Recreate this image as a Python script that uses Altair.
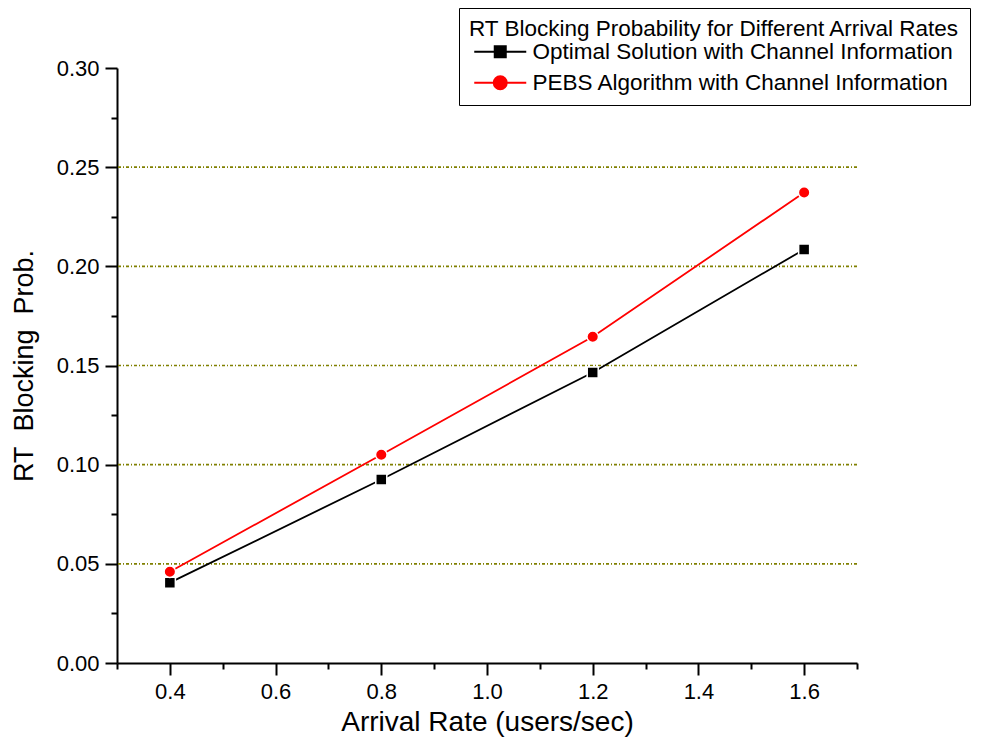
import altair as alt
import pandas as pd

# ---- data ----
arrival_rate = [0.4, 0.8, 1.2, 1.6]
optimal_prob = [0.0405, 0.0925, 0.1465, 0.2085]
pebs_prob = [0.0460, 0.1050, 0.1645, 0.2372]
series_names = ["Optimal Solution with Channel Information",
                "PEBS Algorithm with Channel Information"]
series_colors = ["#000000", "#ff0000"]
grid_values = [0.05, 0.10, 0.15, 0.20, 0.25]
x_major = [0.4, 0.6, 0.8, 1.0, 1.2, 1.4, 1.6]
x_minor = [0.3, 0.5, 0.7, 0.9, 1.1, 1.3, 1.5, 1.7]
y_major = [0.0, 0.05, 0.10, 0.15, 0.20, 0.25, 0.30]
y_minor = [0.025, 0.075, 0.125, 0.175, 0.225, 0.275]

df = pd.DataFrame({
    "rate": arrival_rate * 2,
    "prob": optimal_prob + pebs_prob,
    "series": [series_names[0]] * 4 + [series_names[1]] * 4,
})
grid_df = pd.DataFrame({"g": grid_values})

FONT = "Arial, Liberation Sans, sans-serif"

xscale = alt.Scale(domain=[0.3, 1.7], nice=False, zero=False)
yscale = alt.Scale(domain=[0.0, 0.30], nice=False, zero=False)
cscale = alt.Scale(domain=series_names, range=series_colors)

# legend glyphs (unit = 5 px with symbolSize 100): line with a marker on it
sq_path = ("M-1.2,0L2.9,0M5.1,0L9.2,0"
           "M2.9,-1.1L5.1,-1.1L5.1,1.1L2.9,1.1Z")
ci_path = ("M-1.2,0L2.7,0M5.3,0L9.2,0"
           "M2.7,0A1.3,1.3,0,1,0,5.3,0A1.3,1.3,0,1,0,2.7,0Z")

common_axis = dict(tickColor="black", tickWidth=2, domainColor="black",
                   domainWidth=2, grid=False, labelFont=FONT,
                   labelColor="black", titleFont=FONT, titleColor="black",
                   titleFontWeight="normal")

y_major_axis = alt.Axis(orient="left", values=y_major, format=".2f",
                        title="RT\u00a0 Blocking\u00a0 Prob.", tickSize=12,
                        labelFontSize=22, labelPadding=6, titleFontSize=27,
                        titlePadding=18, **common_axis)
y_minor_axis = alt.Axis(orient="left", values=y_minor, labels=False,
                        tickSize=6, domain=False, title=None,
                        tickColor="black", tickWidth=2, grid=False)
x_major_axis = alt.Axis(orient="bottom", values=x_major, format=".1f",
                        title="Arrival Rate (users/sec)", tickSize=12,
                        labelFontSize=22, labelPadding=6, titleFontSize=28,
                        titlePadding=6, **common_axis)
x_minor_axis = alt.Axis(orient="bottom", values=x_minor, labels=False,
                        tickSize=6, domain=False, title=None,
                        tickColor="black", tickWidth=2, grid=False)

legend = alt.Legend(
    orient="none", legendX=342, legendY=-60,
    title="RT Blocking Probability for Different Arrival Rates\u00a0\u00a0",
    titleFont=FONT, titleFontSize=22.5, titleFontWeight="normal",
    titleColor="black", titleLimit=900, labelFont=FONT, labelFontSize=22.5,
    labelColor="black", symbolSize=100, symbolStrokeWidth=2,
    symbolOpacity=1, strokeColor="black", fillColor="white",
    padding=10, rowPadding=8, titlePadding=0, labelOffset=41,
    labelLimit=900,
)

grid = alt.Chart(grid_df).mark_rule(
    color="#808000", strokeWidth=1.6, strokeDash=[3, 2, 1, 2]
).encode(y=alt.Y("g:Q", scale=yscale, axis=y_major_axis))

line_black = alt.Chart(df).transform_filter(
    alt.datum.series == series_names[0]
).mark_line(strokeWidth=1.8, color=series_colors[0]).encode(
    x=alt.X("rate:Q", scale=xscale, axis=x_major_axis),
    y=alt.Y("prob:Q", scale=yscale, axis=y_minor_axis),
)

line_red = alt.Chart(df).transform_filter(
    alt.datum.series == series_names[1]
).mark_line(strokeWidth=1.8, color=series_colors[1]).encode(
    x=alt.X("rate:Q", scale=xscale, axis=None),
    y=alt.Y("prob:Q", scale=yscale, axis=None),
)

pts_black = alt.Chart(df).transform_filter(
    alt.datum.series == series_names[0]
).mark_point(shape="square", size=121, filled=True, fill=series_colors[0],
             stroke="white", strokeWidth=1.5, opacity=1).encode(
    x=alt.X("rate:Q", scale=xscale, axis=x_minor_axis),
    y=alt.Y("prob:Q", scale=yscale, axis=None),
)

pts_red = alt.Chart(df).transform_filter(
    alt.datum.series == series_names[1]
).mark_point(shape="circle", size=133, filled=True, fill=series_colors[1],
             stroke="white", strokeWidth=1.5, opacity=1).encode(
    x=alt.X("rate:Q", scale=xscale, axis=None),
    y=alt.Y("prob:Q", scale=yscale, axis=None),
)

legend_layer = alt.Chart(df).mark_point(filled=True, opacity=0).encode(
    x=alt.X("rate:Q", scale=xscale, axis=None),
    y=alt.Y("prob:Q", scale=yscale, axis=None),
    fill=alt.Fill("series:N", scale=cscale, legend=legend),
    stroke=alt.Stroke("series:N", scale=cscale, legend=legend),
    shape=alt.Shape("series:N",
                    scale=alt.Scale(domain=series_names,
                                    range=[sq_path, ci_path]),
                    legend=legend),
)

chart = alt.layer(grid, line_black, line_red, pts_black, pts_red,
                  legend_layer).resolve_axis(
    x="independent", y="independent"
).properties(
    width=740, height=595,
    autosize=alt.AutoSizeParams(type="none"),
    padding={"left": 109, "top": 60, "right": 127, "bottom": 78},
).configure_view(stroke=None)

chart.save("out.html", embed_options={"renderer": "svg", "actions": False})
